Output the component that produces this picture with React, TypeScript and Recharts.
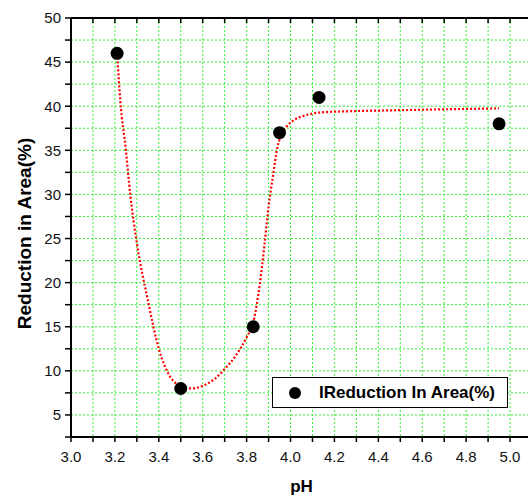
import { ComposedChart, Line, Scatter, XAxis, YAxis, CartesianGrid } from 'recharts';

// measured points
const phValues = [3.21, 3.5, 3.83, 3.95, 4.13, 4.95];
const reduction = [46, 8, 15, 37, 41, 38];

// fitted curve
const fitPh = [3.21, 3.225, 3.25, 3.27, 3.3, 3.35, 3.4, 3.45, 3.5, 3.55, 3.6, 3.65, 3.7, 3.75, 3.8, 3.83, 3.86, 3.88, 3.9, 3.92, 3.94, 3.96, 3.98, 4.02, 4.06, 4.14, 4.3, 4.5, 4.7, 4.95];
const fitReduction = [46, 40.5, 35, 30, 24.5, 18, 12.5, 9.4, 8.3, 8.0, 8.3, 9.0, 10.2, 11.7, 13.8, 15.5, 19.8, 24, 28.6, 32.1, 35.3, 36.8, 37.6, 38.5, 38.9, 39.3, 39.45, 39.55, 39.65, 39.75];

const xTicks = [3.0, 3.1, 3.2, 3.3, 3.4, 3.5, 3.6, 3.7, 3.8, 3.9, 4.0, 4.1, 4.2, 4.3, 4.4, 4.5, 4.6, 4.7, 4.8, 4.9, 5.0];
const yTicks = [2.5, 5, 7.5, 10, 12.5, 15, 17.5, 20, 22.5, 25, 27.5, 30, 32.5, 35, 37.5, 40, 42.5, 45, 47.5, 50];
const yMajor = [5, 10, 15, 20, 25, 30, 35, 40, 45, 50];

const points = phValues.map((x, i) => ({ x, y: reduction[i] }));
const fit = fitPh.map((x, i) => ({ x, y: fitReduction[i] }));

const font = 'Arial, "Liberation Sans", sans-serif';
const tickStyle = { fontSize: 15, fill: '#111', fontFamily: font };
const axisLine = { stroke: '#000', strokeWidth: 2 };
const tickLine = { stroke: '#000', strokeWidth: 1.5 };

const LegendBox = () => (
  <div
    style={{
      position: 'absolute',
      left: 272,
      top: 377,
      width: 234,
      height: 29,
      border: '1px solid #000',
      background: '#fff',
      display: 'flex',
      alignItems: 'center',
      fontFamily: font,
      fontWeight: 'bold',
      fontSize: 17,
      color: '#000',
    }}
  >
    <svg width={46} height={16}>
      <circle cx={22} cy={8} r={6} fill="#000" />
    </svg>
    <span>IReduction In Area(%)</span>
  </div>
);

export default function App() {
  return (
    <div style={{ position: 'absolute', left: 0, top: 0, width: 528, height: 497, overflow: 'hidden', background: '#fff' }}>
      <ComposedChart width={533} height={497} margin={{ top: 18, right: 1, bottom: 0, left: 0 }}>
        <CartesianGrid stroke="#33ee33" strokeDasharray="2 2" strokeWidth={1} />
        <XAxis
          dataKey="x"
          type="number"
          domain={[3, 5.1]}
          allowDataOverflow
          ticks={xTicks}
          interval={0}
          height={60}
          tickSize={5}
          tickMargin={9}
          axisLine={axisLine}
          tickLine={tickLine}
          tick={tickStyle}
          tickFormatter={(v: number) => (Math.round(v * 10) % 2 === 0 ? v.toFixed(1) : '')}
          label={{ value: 'pH', position: 'insideBottom', offset: 5, style: { fontFamily: font, fontWeight: 'bold', fontSize: 17, fill: '#000' } }}
        />
        <XAxis
          xAxisId="top"
          dataKey="x"
          type="number"
          orientation="top"
          mirror
          domain={[3, 5.1]}
          allowDataOverflow
          ticks={xTicks}
          interval={0}
          tickSize={5}
          axisLine={axisLine}
          tickLine={tickLine}
          tickFormatter={() => ''}
        />
        <YAxis
          type="number"
          domain={[2.5, 50]}
          allowDataOverflow
          ticks={yTicks}
          interval={0}
          width={71}
          tickSize={6}
          tickMargin={4}
          axisLine={axisLine}
          tickLine={tickLine}
          tick={tickStyle}
          tickFormatter={(v: number) => (v % 5 === 0 ? String(v) : '')}
          label={{
            value: 'Reduction in Area(%)',
            angle: -90,
            position: 'insideLeft',
            offset: 24,
            dy: 6,
            textAnchor: 'middle',
            style: { fontFamily: font, fontWeight: 'bold', fontSize: 19, fill: '#000', textAnchor: 'middle' },
          }}
        />
        <YAxis
          yAxisId="right"
          type="number"
          orientation="right"
          mirror
          domain={[2.5, 50]}
          allowDataOverflow
          ticks={yMajor}
          interval={0}
          tickSize={4}
          axisLine={axisLine}
          tickLine={{ stroke: '#000', strokeWidth: 3 }}
          tickFormatter={() => ''}
        />
        <Line
          data={fit}
          dataKey="y"
          type="monotone"
          stroke="#ff0000"
          strokeWidth={2.2}
          strokeDasharray="2 2"
          dot={false}
          activeDot={false}
          isAnimationActive={false}
          legendType="none"
        />
        <Scatter
          data={points}
          dataKey="y"
          fill="#000"
          shape={(p: any) => <circle cx={p.cx} cy={p.cy} r={6.5} fill="#000" />}
          isAnimationActive={false}
        />
      </ComposedChart>
      <LegendBox />
    </div>
  );
}
